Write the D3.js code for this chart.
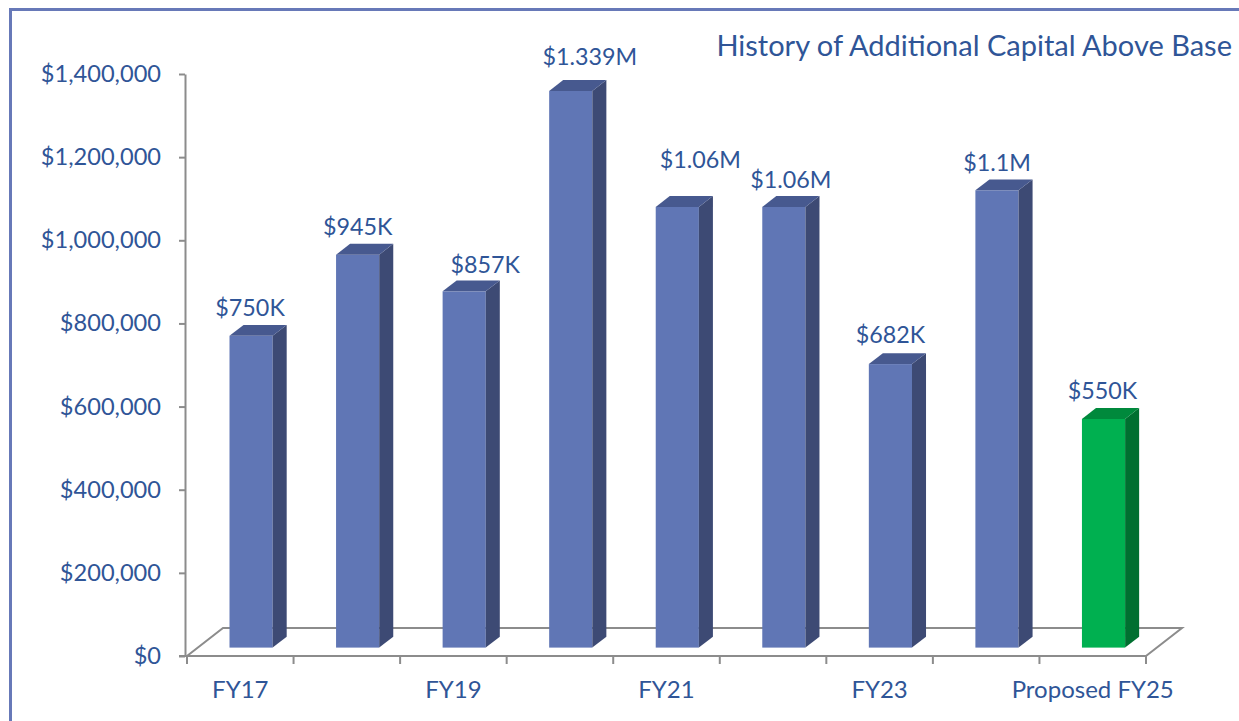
<!DOCTYPE html>
<html>
<head>
<meta charset="utf-8">
<script src="https://cdn.jsdelivr.net/npm/d3@7"></script>
<style>
  body { margin: 0; background: #fff; }
  svg { display: block; font-family: Lato, "Open Sans", sans-serif; }
  text { fill: #2f5597; }
</style>
</head>
<body>
<svg id="chart" width="1239" height="721"></svg>
<script>
// chart data
const categories = ["FY17", "FY18", "FY19", "FY20", "FY21", "FY22", "FY23", "FY24", "Proposed FY25"];
const values = [750000, 945000, 857000, 1339000, 1060000, 1060000, 682000, 1100000, 550000];
const valueLabels = ["$750K", "$945K", "$857K", "$1.339M", "$1.06M", "$1.06M", "$682K", "$1.1M", "$550K"];
const yTicks = [0, 200000, 400000, 600000, 800000, 1000000, 1200000, 1400000];
const shownLabels = ["FY17", "FY19", "FY21", "FY23", "Proposed FY25"];
const title = "History of Additional Capital Above Base";

// hand-moved data labels in the original (pixels)
const labelNudgeX = [-1, 0, 21, 19, 23, 7, 0, 0, -1];
const labelNudgeY = [0, 0, 1, -6, -19, 1, -1, 0, 0];

const blue = { front: "#6076b5", side: "#3d4a74", top: "#47598f" };
const green = { front: "#00b050", side: "#006f30", top: "#00893c" };

var svg = d3.select("#chart");

// outer frame
svg.append("rect")
  .attr("x", 10.5).attr("y", 9.5)
  .attr("width", 1260).attr("height", 760)
  .attr("fill", "none")
  .attr("stroke", "#6779b8")
  .attr("stroke-width", 3);

var x = d3.scaleBand().domain(categories).range([187, 1146]).padding(0);
var y = d3.scaleLinear().domain([0, 1400000]).range([656, 74]);

// floor depth (3d)
var depthX = 36, depthY = 28;
var barFront = 0.3, barBack = 0.69;   // bar position inside the depth
var barW = x.bandwidth() * 0.405;
var gray = "#8c8c8c";

var x0 = x.range()[0], x1 = x.range()[1], y0 = y(0);

// floor (back + sides)
svg.append("path")
  .attr("d", `M${x0},${y0} L${x0 + depthX},${y0 - depthY} L${x1 + depthX},${y0 - depthY} L${x1},${y0}`)
  .attr("fill", "none")
  .attr("stroke", gray)
  .attr("stroke-width", 2);

// bars
var bars = svg.append("g").selectAll("g")
  .data(categories)
  .enter()
  .append("g");

function barGeom(d, i) {
  let cx = x(d) + x.bandwidth() / 2 + depthX * barFront;
  let left = cx - barW / 2;
  let right = cx + barW / 2;
  let bottom = y(0) - depthY * barFront;
  let top = y(values[i]) - depthY * barFront;
  let dx = depthX * (barBack - barFront);
  let dy = depthY * (barBack - barFront);
  return { cx, left, right, bottom, top, dx, dy };
}

function colorOf(i) {
  return categories[i].startsWith("Proposed") ? green : blue;
}

bars.append("rect")
  .attr("x", (d, i) => barGeom(d, i).left)
  .attr("y", (d, i) => barGeom(d, i).top)
  .attr("width", barW)
  .attr("height", (d, i) => { let g = barGeom(d, i); return g.bottom - g.top; })
  .attr("fill", (d, i) => colorOf(i).front);

bars.append("path")
  .attr("d", (d, i) => {
    let g = barGeom(d, i);
    return `M${g.right},${g.bottom} L${g.right},${g.top} L${g.right + g.dx},${g.top - g.dy} L${g.right + g.dx},${g.bottom - g.dy} Z`;
  })
  .attr("fill", (d, i) => colorOf(i).side);

bars.append("path")
  .attr("d", (d, i) => {
    let g = barGeom(d, i);
    return `M${g.left},${g.top} L${g.left + g.dx},${g.top - g.dy} L${g.right + g.dx},${g.top - g.dy} L${g.right},${g.top} Z`;
  })
  .attr("fill", (d, i) => colorOf(i).top);

// value labels
bars.append("text")
  .text((d, i) => valueLabels[i])
  .attr("x", (d, i) => barGeom(d, i).cx + labelNudgeX[i])
  .attr("y", (d, i) => y(values[i]) - 28 + labelNudgeY[i])
  .attr("text-anchor", "middle")
  .style("font-size", "23.3px");

// y axis
var yAxis = svg.append("g")
  .attr("transform", `translate(${x0 - 2},0)`)
  .call(d3.axisLeft(y)
    .tickValues(yTicks)
    .tickFormat(d => "$" + d3.format(",")(d))
    .tickSize(6)
    .tickSizeOuter(0)
    .tickPadding(18));
yAxis.selectAll("path, line").attr("stroke", gray).attr("stroke-width", 2);
yAxis.selectAll("text")
  .style("font-size", "23.6px")
  .style("font-family", "Lato, sans-serif")
  .attr("fill", "#2f5597");

// x axis: front floor line + ticks at category edges
svg.append("line")
  .attr("x1", x0 - 8).attr("x2", x1)
  .attr("y1", y0).attr("y2", y0)
  .attr("stroke", gray).attr("stroke-width", 2);

var edges = categories.map(c => x(c)).concat([x1]);
svg.append("g").selectAll("line")
  .data(edges)
  .enter()
  .append("line")
  .attr("x1", d => d).attr("x2", d => d)
  .attr("y1", y0).attr("y2", y0 + 8)
  .attr("stroke", gray).attr("stroke-width", 2);

svg.append("g").selectAll("text")
  .data(shownLabels)
  .enter()
  .append("text")
  .text(d => d)
  .attr("x", d => x(d) + x.bandwidth() / 2)
  .attr("y", 698)
  .attr("text-anchor", "middle")
  .style("font-size", "24px");

// title
svg.append("text")
  .text(title)
  .attr("x", 1232)
  .attr("y", 56)
  .attr("text-anchor", "end")
  .style("font-size", "29px");
</script>
</body>
</html>
